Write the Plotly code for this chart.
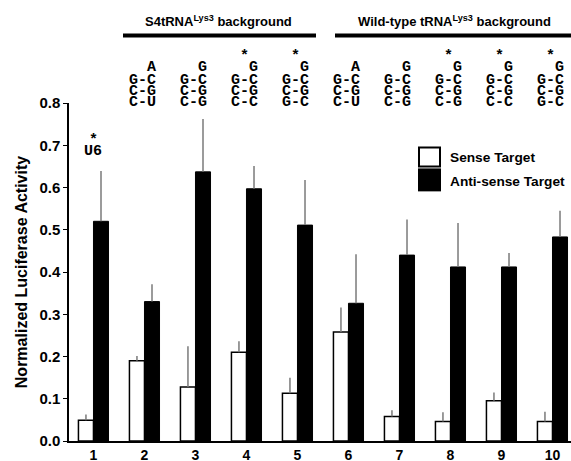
import plotly.graph_objects as go

groups = [1, 2, 3, 4, 5, 6, 7, 8, 9, 10]
sense = [0.049, 0.190, 0.128, 0.210, 0.113, 0.258, 0.058, 0.046, 0.095, 0.046]
sense_err = [0.014, 0.011, 0.096, 0.026, 0.037, 0.058, 0.015, 0.022, 0.020, 0.023]
anti = [0.520, 0.330, 0.637, 0.597, 0.511, 0.326, 0.440, 0.412, 0.412, 0.483]
anti_err = [0.119, 0.041, 0.125, 0.054, 0.107, 0.116, 0.084, 0.104, 0.033, 0.062]

# stem sequences drawn above groups 2-10 (top, row1, row2, row3, star)
loop_top = ["A", "G", "G", "G", "A", "G", "G", "G", "G"]
row1 = ["G-C"] * 9
row2 = ["C-G"] * 9
row3 = ["C-U", "C-G", "C-C", "G-C", "C-U", "C-G", "C-G", "C-C", "G-C"]
star = [False, False, True, True, False, False, True, True, True]
seq_groups = [2, 3, 4, 5, 6, 7, 8, 9, 10]

FIG_W, FIG_H = 571, 461
L, R, T, B = 69, 0, 102.5, 20
PW, PH = FIG_W - L - R, FIG_H - T - B


def xp(px):
    return (px - L) / PW


def yp(py):
    return (FIG_H - B - py) / PH


sans = "Liberation Sans, Arial, sans-serif"
mono = "Liberation Mono, Courier New, monospace"

fig = go.Figure()
fig.add_trace(go.Bar(
    x=groups, y=sense, name="Sense Target",
    marker=dict(color="white", line=dict(color="black", width=1.5)),
    error_y=dict(type="data", symmetric=False, array=sense_err,
                 arrayminus=[0] * 10, color="#7a7a7a", thickness=1.5, width=0),
))
fig.add_trace(go.Bar(
    x=groups, y=anti, name="Anti-sense Target",
    marker=dict(color="black", line=dict(color="black", width=1)),
    error_y=dict(type="data", symmetric=False, array=anti_err,
                 arrayminus=[0] * 10, color="#7a7a7a", thickness=1.5, width=0),
))

ann = []
shapes = []
NBSP = "\u00a0"
rows_y = {"star": 56, "top": 67, "r1": 79.5, "r2": 90.5, "r3": 101.5}
for i, g in enumerate(seq_groups):
    lines = [("top", NBSP + NBSP + loop_top[i]), ("r1", row1[i]),
             ("r2", row2[i]), ("r3", row3[i])]
    if star[i]:
        lines.append(("star", NBSP + "*" + NBSP))
    for key, txt in lines:
        ann.append(dict(x=g, y=yp(rows_y[key]), xref="x", yref="paper",
                        text="<b>" + txt + "</b>", showarrow=False,
                        xshift=-2, font=dict(family=mono, size=15, color="black"),
                        xanchor="center", yanchor="middle"))
# group 1 U6 label
ann.append(dict(x=1, y=yp(140), xref="x", yref="paper", text="<b>*</b>",
                xanchor="center", yanchor="middle",
                showarrow=False, font=dict(family=mono, size=15, color="black")))
ann.append(dict(x=1, y=yp(151.5), xref="x", yref="paper", text="<b>U6</b>",
                xanchor="center", yanchor="middle",
                showarrow=False, font=dict(family=mono, size=15, color="black")))

# headers
ann.append(dict(x=xp(218.5), y=yp(20), xref="paper", yref="paper",
                xanchor="center", yanchor="middle",
                text="<b>S4tRNA<sup>Lys3</sup> background</b>", showarrow=False,
                font=dict(family=sans, size=13, color="black")))
ann.append(dict(x=xp(454), y=yp(20), xref="paper", yref="paper",
                xanchor="center", yanchor="middle",
                text="<b>Wild-type tRNA<sup>Lys3</sup> background</b>", showarrow=False,
                font=dict(family=sans, size=13, color="black")))
shapes.append(dict(type="line", xref="paper", yref="paper", x0=xp(123), x1=xp(316),
                   y0=yp(35), y1=yp(35), line=dict(color="black", width=4)))
shapes.append(dict(type="line", xref="paper", yref="paper", x0=xp(335), x1=xp(571),
                   y0=yp(35), y1=yp(35), line=dict(color="black", width=4)))

# manual legend
shapes.append(dict(type="rect", xref="paper", yref="paper", x0=xp(419), x1=xp(440),
                   y0=yp(147), y1=yp(166), fillcolor="white",
                   line=dict(color="black", width=2)))
shapes.append(dict(type="rect", xref="paper", yref="paper", x0=xp(418), x1=xp(441),
                   y0=yp(168), y1=yp(191), fillcolor="black",
                   line=dict(color="black", width=0)))
ann.append(dict(x=xp(448), y=yp(157), xref="paper", yref="paper",
                xanchor="left", yanchor="middle",
                text="<b>Sense Target</b>", showarrow=False,
                font=dict(family=sans, size=13.7, color="black")))
ann.append(dict(x=xp(448), y=yp(181), xref="paper", yref="paper",
                xanchor="left", yanchor="middle",
                text="<b>Anti-sense Target</b>", showarrow=False,
                font=dict(family=sans, size=13.7, color="black")))

fig.update_layout(
    width=FIG_W, height=FIG_H,
    margin=dict(l=L, r=R, t=T, b=B, autoexpand=False),
    paper_bgcolor="white", plot_bgcolor="white",
    barmode="group", bargap=0.41, bargroupgap=0,
    showlegend=False,
    font=dict(family=sans, color="black"),
    annotations=ann, shapes=shapes,
    xaxis=dict(range=[0.52, 10.363], tickvals=groups,
               ticktext=["<b>%d</b>" % g for g in groups],
               showline=True, linecolor="black", linewidth=1.5,
               ticks="", showgrid=False, zeroline=False,
               tickfont=dict(family=sans, size=14, color="black")),
    yaxis=dict(range=[0, 0.8], dtick=0.1, tickformat=".1f",
               showline=True, linecolor="black", linewidth=1.5,
               ticks="outside", ticklen=4, tickcolor="black",
               showgrid=False, zeroline=False,
               tickfont=dict(family=sans, size=15, color="black", weight="bold"),
               title=dict(text="<b>Normalized Luciferase Activity</b>",
                          font=dict(family=sans, size=16, color="black"),
                          standoff=8)),
)

fig.write_html("out.html")
